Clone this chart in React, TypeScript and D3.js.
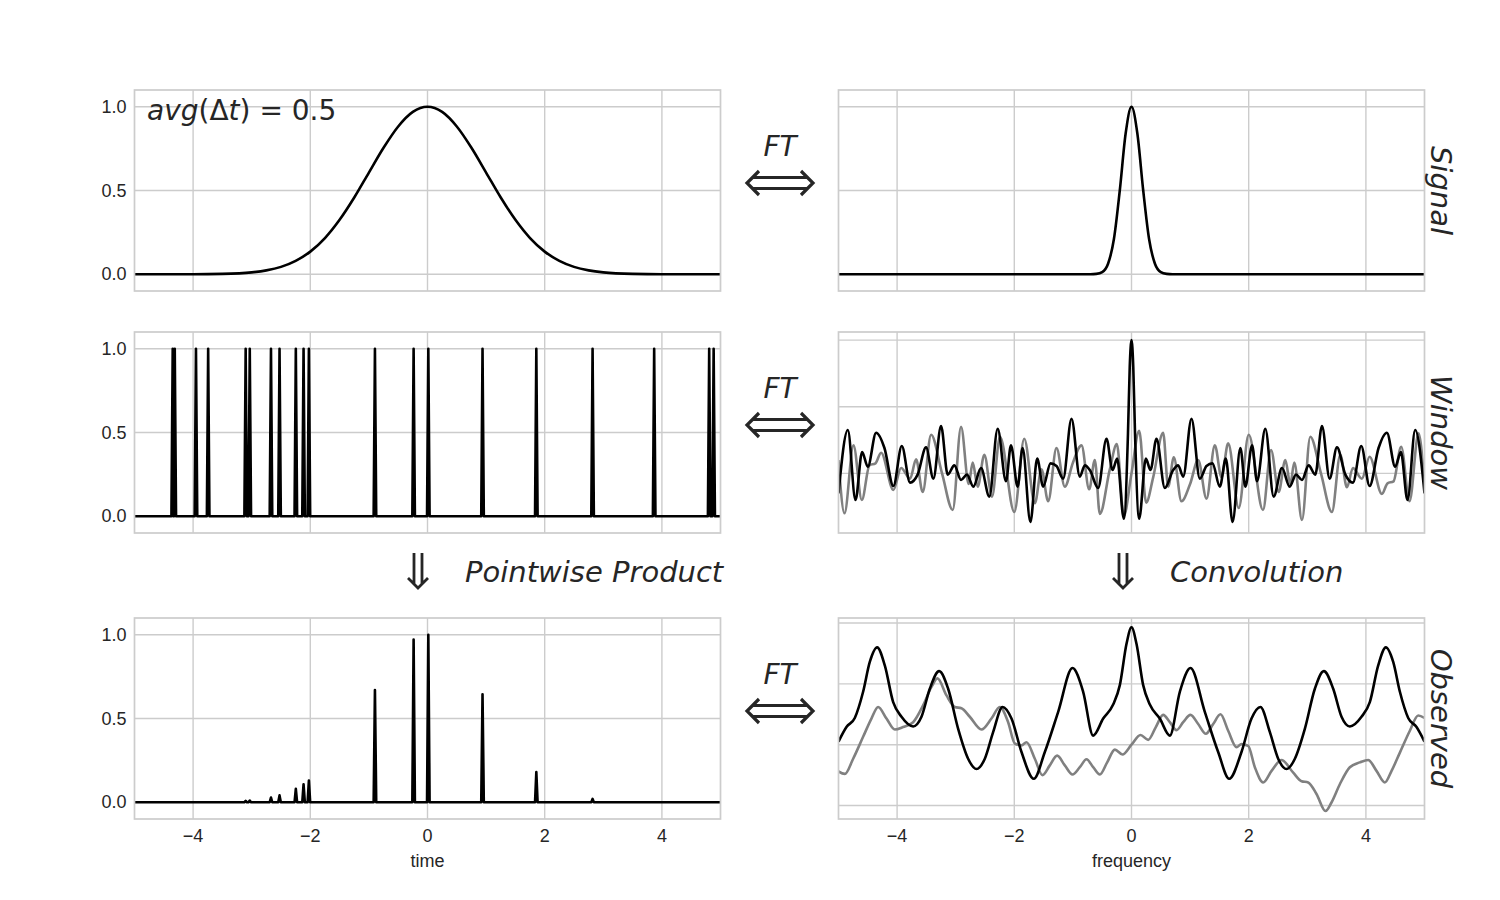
import React from "react";
import * as d3 from "d3";

// axis ticks
const freqTicks = [-4, -2, 0, 2, 4];
const freqTickText = ["\u22124", "\u22122", "0", "2", "4"];
const unitTicks = [0, 0.5, 1.0];
const unitTickText = ["0.0", "0.5", "1.0"];
const obsTicks = [-1, 0, 1, 2];

// Gaussian signal in time
const signalT = [-5, -4.5, -4, -3.5, -3, -2.75, -2.5, -2.25, -2, -1.75, -1.5, -1.25, -1, -0.75, -0.5, -0.25, 0,
  0.25, 0.5, 0.75, 1, 1.25, 1.5, 1.75, 2, 2.25, 2.5, 2.75, 3, 3.5, 4, 4.5, 5];
const signalY = [0, 0, 0, 0.002, 0.011, 0.023, 0.044, 0.08, 0.135, 0.216, 0.325, 0.458, 0.607, 0.755, 0.882, 0.969, 1.0,
  0.969, 0.882, 0.755, 0.607, 0.458, 0.325, 0.216, 0.135, 0.08, 0.044, 0.023, 0.011, 0.002, 0, 0, 0];

// its spectrum
const spectrumF = [-5, -0.7, -0.6, -0.5, -0.4, -0.3, -0.2, -0.1, 0, 0.1, 0.2, 0.3, 0.4, 0.5, 0.6, 0.7, 5];
const spectrumP = [0, 0, 0.002, 0.013, 0.063, 0.21, 0.5, 0.84, 1.0, 0.84, 0.5, 0.21, 0.063, 0.013, 0.002, 0, 0];

// observation times
const sampleTimes = [-4.348, -4.313, -3.951, -3.743, -3.103, -3.033, -2.671, -2.525, -2.247, -2.115, -2.024,
  -0.897, -0.237, 0.014, 0.939, 1.857, 2.817, 3.868, 4.807, 4.883];
const windowHeights = sampleTimes.map(() => 1);
const productHeights = [0, 0, 0, 0, 0.008, 0.01, 0.028, 0.041, 0.08, 0.107, 0.129,
  0.67, 0.972, 1.0, 0.645, 0.18, 0.02, 0, 0, 0];

// window spectrum, real part
const winReF = [-5, -4.841, -4.71, -4.597, -4.5, -4.358, -4.216, -4.063, -3.92, -3.778, -3.65, -3.506, -3.381,
  -3.25, -3.136, -3.023, -2.909, -2.807, -2.699, -2.568, -2.426, -2.284, -2.142, -2.057, -1.943, -1.858,
  -1.725, -1.61, -1.507, -1.382, -1.28, -1.166, -1.024, -0.882, -0.796, -0.711, -0.569, -0.427, -0.324,
  -0.245, -0.131, -0.06, -0.03, 0, 0.03, 0.06, 0.131, 0.245, 0.324, 0.427, 0.569, 0.711, 0.796, 0.882,
  1.024, 1.166, 1.28, 1.382, 1.507, 1.61, 1.725, 1.858, 1.943, 2.057, 2.142, 2.284, 2.426, 2.568, 2.699,
  2.807, 2.909, 3.023, 3.136, 3.25, 3.381, 3.506, 3.65, 3.778, 3.92, 4.063, 4.216, 4.358, 4.5, 4.597,
  4.71, 4.841, 5];
const winRe = [-0.15, 0.325, -0.2, 0.16, 0.05, 0.305, 0.19, -0.095, 0.205, -0.07, -0.01, 0.195, -0.04,
  0.355, -0.01, 0.06, -0.05, -0.01, -0.1, 0.04, -0.175, 0.335, -0.06, 0.21, -0.1, 0.19,
  -0.365, 0.11, -0.1, 0.075, 0.055, -0.04, 0.41, -0.025, 0.06, 0.025, -0.11, 0.26, 0.025,
  0.11, -0.34, 0.3, 0.8, 1.0, 0.8, 0.3, -0.34, 0.11, 0.025, 0.26, -0.11, 0.025, 0.06, -0.025,
  0.41, -0.04, 0.055, 0.075, -0.1, 0.11, -0.365, 0.19, -0.1, 0.21, -0.06, 0.335, -0.175, 0.04, -0.1,
  -0.01, -0.05, 0.06, -0.01, 0.355, -0.04, 0.195, -0.01, -0.07, 0.205, -0.095, 0.19, 0.305, 0.05, 0.16,
  -0.2, 0.325, -0.15];

// window spectrum, imaginary part
const winImF = [-5, -4.898, -4.744, -4.602, -4.472, -4.369, -4.273, -4.063, -3.932, -3.778, -3.676, -3.563,
  -3.42, -3.233, -3.051, -2.909, -2.778, -2.71, -2.625, -2.511, -2.381, -2.244, -2.0, -1.83, -1.65, -1.536,
  -1.422, -1.28, -1.138, -1.0, -0.853, -0.722, -0.626, -0.54, -0.37, -0.25, -0.131, 0, 0.131, 0.25, 0.37,
  0.54, 0.626, 0.722, 0.853, 1.0, 1.138, 1.28, 1.422, 1.536, 1.65, 1.83, 2.0, 2.244, 2.381, 2.511, 2.625,
  2.71, 2.778, 2.909, 3.051, 3.233, 3.42, 3.563, 3.676, 3.778, 3.932, 4.063, 4.273, 4.369, 4.472, 4.602,
  4.744, 4.898, 5];
const winIm = [0.1, -0.3, 0.21, -0.2, 0.06, 0.075, 0.155, -0.125, 0.04, -0.04, 0.105, -0.14,
  0.29, 0.0, -0.275, 0.35, -0.08, 0.08, -0.1, 0.14, -0.175, 0.275, -0.29, 0.26, -0.225, 0.03,
  -0.21, 0.19, -0.1, 0.08, 0.21, -0.12, 0.1, -0.305, 0.03, 0.22, -0.32, 0, 0.32, -0.22, -0.03,
  0.305, -0.1, 0.12, -0.21, -0.08, 0.1, -0.19, 0.21, -0.03, 0.225, -0.26, 0.29, -0.275, 0.175, -0.14, 0.1,
  -0.08, 0.08, -0.35, 0.275, 0.0, -0.29, 0.14, -0.105, 0.04, -0.04, 0.125, -0.155, -0.075, -0.06, 0.2,
  -0.21, 0.3, -0.1];

// observed spectrum, real part
const obsReF = [-5, -4.864, -4.722, -4.58, -4.466, -4.341, -4.209, -4.067, -3.925, -3.726, -3.584, -3.442,
  -3.282, -3.129, -2.958, -2.788, -2.645, -2.503, -2.36, -2.2, -2.048, -1.877, -1.667, -1.479, -1.251,
  -1.007, -0.825, -0.654, -0.483, -0.313, -0.199, -0.085, 0, 0.085, 0.199, 0.313, 0.483, 0.654, 0.825,
  1.007, 1.251, 1.479, 1.667, 1.877, 2.048, 2.2, 2.36, 2.503, 2.645, 2.788, 2.958, 3.129, 3.282, 3.442,
  3.584, 3.726, 3.925, 4.067, 4.209, 4.341, 4.466, 4.58, 4.722, 4.864, 5];
const obsRe = [0.05, 0.29, 0.44, 0.87, 1.36, 1.6, 1.3, 0.7, 0.46, 0.3, 0.46, 0.92,
  1.21, 0.92, 0.26, -0.23, -0.4, -0.23, 0.21, 0.62, 0.43, -0.12, -0.56, -0.12, 0.54,
  1.26, 0.87, 0.15, 0.43, 0.66, 0.98, 1.66, 1.93, 1.66, 0.98, 0.66, 0.43, 0.15, 0.87,
  1.26, 0.54, -0.12, -0.56, -0.12, 0.43, 0.62, 0.21, -0.23, -0.4, -0.23, 0.26, 0.92, 1.21, 0.92,
  0.46, 0.3, 0.46, 0.7, 1.3, 1.6, 1.36, 0.87, 0.44, 0.29, 0.05];

// observed spectrum, imaginary part
const obsImF = [-5, -4.893, -4.75, -4.58, -4.438, -4.324, -4.181, -4.039, -3.897, -3.726, -3.555, -3.413,
  -3.311, -3.157, -3.015, -2.902, -2.76, -2.56, -2.39, -2.247, -2.105, -1.991, -1.877, -1.792, -1.65,
  -1.519, -1.394, -1.269, -1.138, -1.007, -0.882, -0.768, -0.654, -0.54, -0.415, -0.284, -0.154, 0,
  0.154, 0.284, 0.415, 0.54, 0.654, 0.768, 0.882, 1.007, 1.138, 1.269, 1.394, 1.519, 1.65, 1.792, 1.877,
  1.991, 2.105, 2.247, 2.39, 2.56, 2.76, 2.902, 3.015, 3.157, 3.311, 3.413, 3.555, 3.726, 3.897, 4.039,
  4.181, 4.324, 4.438, 4.58, 4.75, 4.893, 5];
const obsIm = [-0.44, -0.48, -0.23, 0.13, 0.43, 0.62, 0.43, 0.25, 0.29, 0.37, 0.65, 0.95,
  1.09, 0.81, 0.62, 0.6, 0.46, 0.25, 0.43, 0.62, 0.37, 0.02, -0.01, 0.04, -0.23,
  -0.5, -0.34, -0.18, -0.34, -0.49, -0.37, -0.24, -0.37, -0.49, -0.29, -0.08, -0.16, 0,
  0.16, 0.08, 0.29, 0.49, 0.37, 0.24, 0.37, 0.49, 0.34, 0.18, 0.34, 0.5, 0.23, -0.04, 0.01,
  -0.02, -0.37, -0.62, -0.43, -0.25, -0.46, -0.6, -0.62, -0.81, -1.09, -0.95, -0.65, -0.37, -0.29, -0.25,
  -0.43, -0.62, -0.43, -0.13, 0.23, 0.48, 0.44];

const rowLabels = ["Signal", "Window", "Observed"];

const AX_W = 586;
const AX_H = 201;
const COL_X = [134.5, 838.5];
const ROW_Y = [90, 332, 618];
const INK = "#262626";
const GRID = "#cccccc";
const TICK_FONT = "'Liberation Sans', Arial, sans-serif";
const TEXT_FONT = "'DejaVu Sans', sans-serif";

type Series = { xs: number[]; ys: number[]; color: string; smooth: boolean };

// narrow spikes at every sample time, sitting on a zero baseline
function spikes(times: number[], heights: number[], halfWidth = 0.022) {
  const xs: number[] = [-5];
  const ys: number[] = [0];
  times.forEach((t, i) => {
    xs.push(t - halfWidth, t, t + halfWidth);
    ys.push(0, heights[i], 0);
  });
  xs.push(5);
  ys.push(0);
  return { xs, ys };
}

function Axes(props: {
  id: string;
  left: number;
  top: number;
  yDomain: [number, number];
  yTicks: number[];
  yTickText?: string[];
  xTickText?: string[];
  xLabel?: string;
  series: Series[];
}) {
  const { id, left, top, yDomain, yTicks, yTickText, xTickText, xLabel, series } = props;
  const x = d3.scaleLinear().domain([-5, 5]).range([left, left + AX_W]);
  const y = d3.scaleLinear().domain(yDomain).range([top + AX_H, top]);
  return (
    <g>
      <defs>
        <clipPath id={id}>
          <rect x={left} y={top} width={AX_W} height={AX_H} />
        </clipPath>
      </defs>
      {freqTicks.map((t) => (
        <line key={"vx" + t} x1={x(t)} x2={x(t)} y1={top} y2={top + AX_H} stroke={GRID} strokeWidth={1.4} />
      ))}
      {yTicks.map((t) => (
        <line key={"hy" + t} x1={left} x2={left + AX_W} y1={y(t)} y2={y(t)} stroke={GRID} strokeWidth={1.4} />
      ))}
      <g clipPath={`url(#${id})`}>
        {series.map((s, i) => {
          const pts = s.xs.map((v, k) => [v, s.ys[k]] as [number, number]);
          const line = d3
            .line<[number, number]>()
            .x((d) => x(d[0]))
            .y((d) => y(d[1]))
            .curve(s.smooth ? d3.curveMonotoneX : d3.curveLinear);
          return (
            <path key={i} d={line(pts) || ""} fill="none" stroke={s.color} strokeWidth={2.6}
              strokeLinejoin="round" />
          );
        })}
      </g>
      <rect x={left} y={top} width={AX_W} height={AX_H} fill="none" stroke={GRID} strokeWidth={1.7} />
      {yTickText &&
        yTicks.map((t, i) => (
          <text key={"yt" + t} x={left - 8} y={y(t) + 6} textAnchor="end" fontSize={18}
            fontFamily={TICK_FONT} fill={INK}>
            {yTickText[i]}
          </text>
        ))}
      {xTickText &&
        freqTicks.map((t, i) => (
          <text key={"xt" + t} x={x(t)} y={top + AX_H + 23} textAnchor="middle" fontSize={18}
            fontFamily={TICK_FONT} fill={INK}>
            {xTickText[i]}
          </text>
        ))}
      {xLabel && (
        <text x={left + AX_W / 2} y={top + AX_H + 48} textAnchor="middle" fontSize={18}
          fontFamily={TICK_FONT} fill={INK}>
          {xLabel}
        </text>
      )}
    </g>
  );
}

function DoubleArrowH({ cx, cy }: { cx: number; cy: number }) {
  const L = 33, g = 5.5, h = 12;
  const d =
    `M${cx - L + g},${cy - g}H${cx + L - g}M${cx - L + g},${cy + g}H${cx + L - g}` +
    `M${cx - L + h},${cy - h}L${cx - L},${cy}L${cx - L + h},${cy + h}` +
    `M${cx + L - h},${cy - h}L${cx + L},${cy}L${cx + L - h},${cy + h}`;
  return <path d={d} fill="none" stroke={INK} strokeWidth={3.2} />;
}

function DoubleArrowDown({ cx, y0, y1 }: { cx: number; y0: number; y1: number }) {
  const g = 4, h = 10;
  const d =
    `M${cx - g},${y0}V${y1 - g}M${cx + g},${y0}V${y1 - g}` +
    `M${cx - h},${y1 - h}L${cx},${y1}L${cx + h},${y1 - h}`;
  return <path d={d} fill="none" stroke={INK} strokeWidth={2.8} />;
}

export default function App() {
  const win = spikes(sampleTimes, windowHeights);
  const prod = spikes(sampleTimes, productHeights);
  const rowMid = ROW_Y.map((t) => t + AX_H / 2);

  return (
    <svg width={1500} height={900} style={{ position: "absolute", left: 0, top: 0, background: "#fff" }}>
      <rect width={1500} height={900} fill="#ffffff" />

      <Axes id="c0" left={COL_X[0]} top={ROW_Y[0]} yDomain={[-0.1, 1.1]} yTicks={unitTicks}
        yTickText={unitTickText}
        series={[{ xs: signalT, ys: signalY, color: "#000", smooth: true }]} />
      <Axes id="c1" left={COL_X[1]} top={ROW_Y[0]} yDomain={[-0.1, 1.1]} yTicks={unitTicks}
        series={[{ xs: spectrumF, ys: spectrumP, color: "#000", smooth: true }]} />

      <Axes id="c2" left={COL_X[0]} top={ROW_Y[1]} yDomain={[-0.1, 1.1]} yTicks={unitTicks}
        yTickText={unitTickText}
        series={[{ xs: win.xs, ys: win.ys, color: "#000", smooth: false }]} />
      <Axes id="c3" left={COL_X[1]} top={ROW_Y[1]} yDomain={[-0.448, 1.061]} yTicks={unitTicks}
        series={[
          { xs: winImF, ys: winIm, color: "#808080", smooth: true },
          { xs: winReF, ys: winRe, color: "#000", smooth: true },
        ]} />

      <Axes id="c4" left={COL_X[0]} top={ROW_Y[2]} yDomain={[-0.1, 1.1]} yTicks={unitTicks}
        yTickText={unitTickText} xTickText={freqTickText} xLabel="time"
        series={[{ xs: prod.xs, ys: prod.ys, color: "#000", smooth: false }]} />
      <Axes id="c5" left={COL_X[1]} top={ROW_Y[2]} yDomain={[-1.221, 2.083]} yTicks={obsTicks}
        xTickText={freqTickText} xLabel="frequency"
        series={[
          { xs: obsImF, ys: obsIm, color: "#808080", smooth: true },
          { xs: obsReF, ys: obsRe, color: "#000", smooth: true },
        ]} />

      <text x={147} y={120} fontSize={28} fontFamily={TEXT_FONT} fill={INK}>
        <tspan fontStyle="italic">avg</tspan>
        <tspan>(Δ</tspan>
        <tspan fontStyle="italic">t</tspan>
        <tspan>) = 0.5</tspan>
      </text>

      {rowMid.map((m, i) => (
        <g key={"ft" + i}>
          <text x={780} y={m - 35} textAnchor="middle" fontSize={28} fontStyle="italic"
            fontFamily={TEXT_FONT} fill={INK}>
            FT
          </text>
          <DoubleArrowH cx={780} cy={m - 7.5} />
        </g>
      ))}

      {rowMid.map((m, i) => (
        <text key={"rl" + i} transform={`translate(1431,${m}) rotate(90)`} textAnchor="middle"
          fontSize={29} fontStyle="italic" fontFamily={TEXT_FONT} fill={INK}>
          {rowLabels[i]}
        </text>
      ))}

      <DoubleArrowDown cx={418} y0={553} y1={588} />
      <text x={465} y={582} fontSize={29} fontStyle="italic" fontFamily={TEXT_FONT} fill={INK}>
        Pointwise Product
      </text>
      <DoubleArrowDown cx={1123} y0={553} y1={588} />
      <text x={1170} y={582} fontSize={29} fontStyle="italic" fontFamily={TEXT_FONT} fill={INK}>
        Convolution
      </text>
    </svg>
  );
}
